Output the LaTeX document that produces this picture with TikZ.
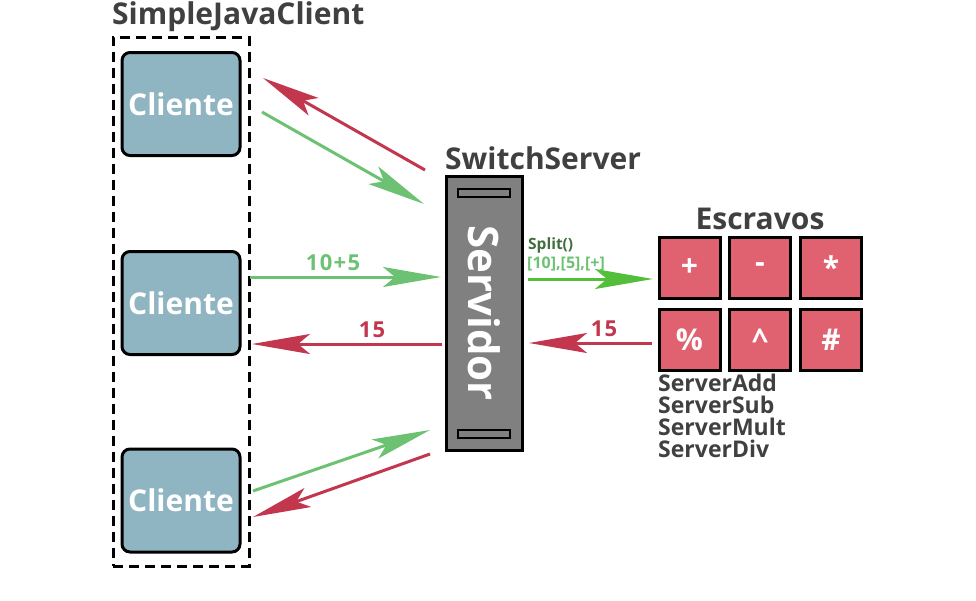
\documentclass[tikz,border=0pt]{standalone}
\usepackage{fontspec}
\setmainfont{Open Sans}
\usetikzlibrary{arrows.meta}
\definecolor{grn}{RGB}{108,194,114}
\definecolor{brgrn}{RGB}{82,190,58}
\definecolor{dkgrn}{RGB}{62,110,60}
\definecolor{rd}{RGB}{194,54,78}
\definecolor{clfill}{RGB}{143,181,195}
\definecolor{slfill}{RGB}{224,98,112}
\definecolor{srvgray}{RGB}{128,128,128}
\definecolor{txtgray}{RGB}{64,64,64}
\tikzset{
  cliente/.style={draw=black,line width=3pt,fill=clfill,rounded corners=8pt,minimum width=118pt,minimum height=103pt,text=white,font=\fontsize{30}{32}\selectfont\bfseries,inner sep=0pt},
  slave/.style={draw=black,line width=3pt,fill=slfill,minimum width=61pt,minimum height=61pt,text=white,font=\fontsize{30}{32}\selectfont\bfseries,inner sep=0pt},
  title/.style={text=txtgray,font=\fontsize{30}{32}\selectfont\bfseries,inner sep=0pt},
  arr/.style={line width=3pt,-{Stealth[length=58pt,width=20pt,inset=12pt]}},
  lbl/.style={font=\fontsize{22}{24}\selectfont\bfseries\addfontfeatures{LetterSpace=6},inner sep=0pt},
}
\begin{document}
\begin{tikzpicture}[x=1pt,y=-1pt]
\useasboundingbox (0,0) rectangle (976,600);
% client group
\node[draw=black,line width=3pt,dash pattern=on 10pt off 6pt,minimum width=136pt,minimum height=529pt,inner sep=0pt] (grp) at (181,301.5) {};
\node[title,anchor=west] (sjc) at (112,17) {SimpleJavaClient};
\node[cliente] (c1) at (181,104) {Cliente};
\node[cliente] (c2) at (181,303) {Cliente};
\node[cliente] (c3) at (181,500.5) {Cliente};
% server
\node[draw=black,line width=3pt,fill=srvgray,minimum width=76pt,minimum height=274pt,inner sep=0pt] (srv) at (484,313) {};
\node[text=white,font=\fontsize{42}{44}\selectfont\bfseries,rotate=-90,inner sep=0pt] (srvt) at (484,313) {Servidor};
\node[draw=black,line width=2.5pt,fill=srvgray,minimum width=52pt,minimum height=8pt,inner sep=0pt] (slot1) at (484,193) {};
\node[draw=black,line width=2.5pt,fill=srvgray,minimum width=52pt,minimum height=8pt,inner sep=0pt] (slot2) at (484,434) {};
\node[title,anchor=west] (sst) at (445,158) {SwitchServer};
% slaves
\node[title] (esc) at (760,219) {Escravos};
\node[slave] (s1) at (689.5,267.5) {+};
\node[slave] (s2) at (760,267.5) {-};
\node[slave] (s3) at (831,267.5) {*};
\node[slave] (s4) at (689.5,339.5) {\%};
\node[slave] (s5) at (760,339.5) {\^{}};
\node[slave] (s6) at (831,339.5) {\#};
\node[text=txtgray,font=\fontsize{23}{22}\selectfont\bfseries,anchor=north west,align=left,inner sep=0pt] (names) at (658,374) {ServerAdd\\ServerSub\\ServerMult\\ServerDiv};
% connector endpoints
\coordinate (a1s) at (425,170); \coordinate (a1e) at (263,78);
\coordinate (a2s) at (262,112); \coordinate (a2e) at (424,204);
\coordinate (a3s) at (250,277); \coordinate (a3e) at (441,277);
\coordinate (a4s) at (442,344); \coordinate (a4e) at (252,344);
\coordinate (a5s) at (528,279); \coordinate (a5e) at (653,279);
\coordinate (a6s) at (652,343); \coordinate (a6e) at (529,343);
\coordinate (a7s) at (253,491); \coordinate (a7e) at (430,430);
\coordinate (a8s) at (430,454); \coordinate (a8e) at (253,517);
\draw[arr,rd] (a1s) -- (a1e);
\draw[arr,grn] (a2s) -- (a2e);
\draw[arr,grn] (a3s) -- (a3e);
\draw[arr,rd] (a4s) -- (a4e);
\draw[arr,brgrn] (a5s) -- (a5e);
\draw[arr,rd] (a6s) -- (a6e);
\draw[arr,grn] (a7s) -- (a7e);
\draw[arr,rd] (a8s) -- (a8e);
% labels
\node[lbl,text=grn] (l1) at (333,263) {10+5};
\node[lbl,text=rd] (l2) at (372,330) {15};
\node[lbl,text=rd] (l3) at (604,329) {15};
\node[font=\fontsize{15.5}{16}\selectfont\bfseries,text=dkgrn,anchor=west,inner sep=0pt] (l4) at (528,245) {Split()};
\node[font=\fontsize{16}{17}\selectfont\bfseries,text=grn,anchor=west,inner sep=0pt] (l5) at (527,264) {[10],[5],[+]};
\end{tikzpicture}
\end{document}
